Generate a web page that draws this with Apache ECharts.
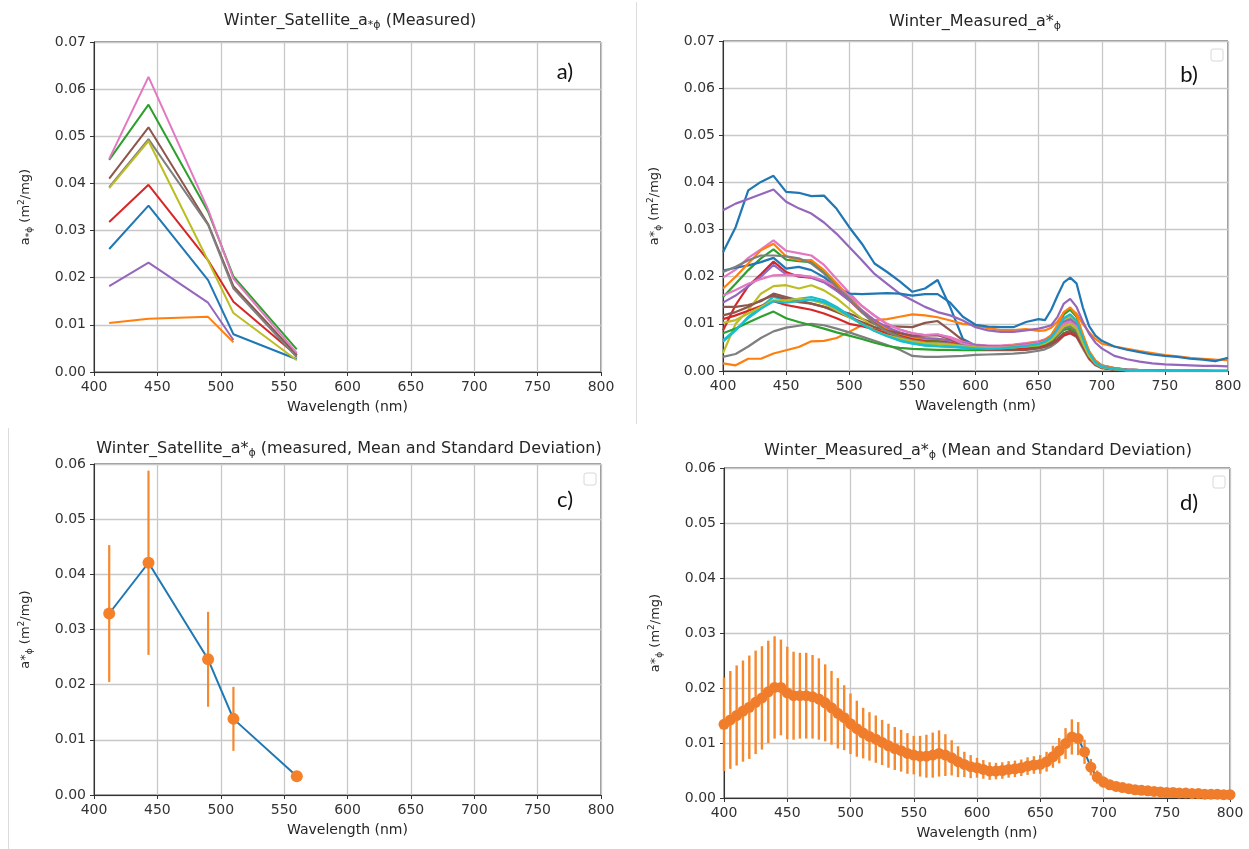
<!DOCTYPE html>
<html><head><meta charset="utf-8">
<script src="https://cdn.jsdelivr.net/npm/echarts@6/dist/echarts.min.js"></script>
<style>html,body{margin:0;padding:0;background:#fff}#c{width:1249px;height:849px}</style>
</head><body><div id="c"></div><script>
// ---------- Panel a: satellite bands ----------
const satWl = [412, 443, 490, 510, 560];
const satBlue   = [0.0261, 0.0353, 0.0195, 0.0080, 0.0027];
const satOrange = [0.0104, 0.0113, 0.0117, 0.0063, null];
const satGreen  = [0.0450, 0.0567, 0.0340, 0.0203, 0.0048];
const satRed    = [0.0318, 0.0397, 0.0237, 0.0149, 0.0035];
const satPurple = [0.0182, 0.0232, 0.0147, 0.0068, null];
const satBrown  = [0.0410, 0.0519, 0.0314, 0.0182, 0.0036];
const satPink   = [0.0452, 0.0626, 0.0345, 0.0198, 0.0040];
const satGray   = [0.0392, 0.0494, 0.0312, 0.0177, 0.0031];
const satOlive  = [0.0390, 0.0490, 0.0236, 0.0125, 0.0025];

// ---------- Panel b: measured spectra ----------
const measWl = [400,410,420,430,440,450,460,470,480,490,500,510,520,530,540,550,560,570,580,590,600,610,620,630,640,650,655,660,665,670,675,680,685,690,695,700,710,720,730,740,750,760,770,780,790,800];
const mBlue1 = [.0252,.0305,.0383,.0401,.0414,.0380,.0378,.0371,.0372,.0344,.0305,.0270,.0228,.0210,.0190,.0168,.0175,.0193,.0135,.0068,.0054,.0051,.0051,.0053,.0056,.0060,.0064,.0072,.0088,.0100,.0105,.0095,.0068,.0040,.0022,.0012,.0006,.0003,.0002,.0001,.0001,.0001,.0001,.0001,.0001,.0001];
const mOrange1 = [.0016,.0012,.0026,.0026,.0037,.0044,.0051,.0063,.0064,.0070,.0083,.0097,.0108,.0110,.0115,.0120,.0118,.0114,.0107,.0100,.0097,.0091,.0087,.0087,.0089,.0085,.0086,.0092,.0105,.0124,.0133,.0122,.0100,.0082,.0068,.0058,.0052,.0047,.0042,.0038,.0034,.0031,.0028,.0026,.0024,.0023];
const mGreen1 = [.0157,.0185,.0214,.0239,.0258,.0236,.0233,.0231,.0210,.0182,.0154,.0125,.0104,.0086,.0076,.0068,.0065,.0066,.0062,.0057,.0053,.0052,.0053,.0055,.0058,.0062,.0066,.0075,.0095,.0120,.0130,.0115,.0075,.0040,.0020,.0010,.0005,.0003,.0002,.0001,.0001,.0001,.0001,.0001,0,0];
const mRed1 = [.0086,.0140,.0180,.0205,.0232,.0210,.0200,.0198,.0190,.0172,.0150,.0125,.0105,.0090,.0078,.0068,.0062,.0060,.0058,.0055,.0052,.0050,.0049,.0049,.0050,.0052,.0055,.0060,.0068,.0080,.0085,.0078,.0055,.0030,.0015,.0008,.0004,.0002,.0001,.0001,0,0,0,0,0,0];
const mPurple1 = [.0341,.0355,.0365,.0375,.0385,.0359,.0345,.0334,.0315,.0291,.0263,.0235,.0206,.0185,.0164,.0150,.0136,.0125,.0118,.0107,.0093,.0086,.0083,.0083,.0086,.0090,.0093,.0097,.0115,.0143,.0153,.0136,.0105,.0079,.0060,.0048,.0032,.0025,.0020,.0016,.0014,.0013,.0012,.0011,.0011,.0010];
const mBrown1 = [.0136,.0136,.0140,.0148,.0164,.0157,.0150,.0143,.0136,.0129,.0122,.0111,.0100,.0095,.0094,.0093,.0102,.0106,.0086,.0065,.0052,.0048,.0046,.0046,.0048,.0052,.0055,.0062,.0075,.0090,.0095,.0085,.0058,.0032,.0016,.0008,.0004,.0002,.0001,.0001,0,0,0,0,0,0];
const mPink1 = [.0198,.0215,.0240,.0258,.0277,.0255,.0250,.0245,.0225,.0195,.0166,.0138,.0117,.0099,.0088,.0080,.0076,.0077,.0072,.0062,.0056,.0054,.0054,.0056,.0059,.0063,.0067,.0075,.0092,.0112,.0120,.0106,.0072,.0040,.0020,.0010,.0005,.0003,.0002,.0001,.0001,0,0,0,0,0];
const mGray1 = [.0030,.0036,.0052,.0070,.0084,.0092,.0096,.0100,.0097,.0090,.0082,.0073,.0064,.0055,.0045,.0032,.0030,.0030,.0031,.0032,.0034,.0035,.0036,.0037,.0039,.0043,.0046,.0052,.0062,.0075,.0080,.0072,.0048,.0025,.0012,.0006,.0003,.0001,.0001,0,0,0,0,0,0,0];
const mOlive1 = [.0038,.0100,.0129,.0164,.0180,.0182,.0175,.0182,.0171,.0154,.0132,.0111,.0093,.0079,.0069,.0062,.0058,.0057,.0055,.0052,.0049,.0048,.0048,.0050,.0053,.0057,.0061,.0070,.0088,.0108,.0115,.0102,.0068,.0036,.0018,.0009,.0004,.0002,.0001,.0001,0,0,0,0,0,0];
const mCyan1 = [.0062,.0086,.0115,.0136,.0157,.0150,.0153,.0157,.0150,.0136,.0118,.0100,.0086,.0075,.0064,.0058,.0054,.0052,.0051,.0049,.0047,.0046,.0047,.0049,.0052,.0056,.0060,.0068,.0085,.0104,.0110,.0098,.0065,.0035,.0017,.0008,.0004,.0002,.0001,.0001,0,0,0,0,0,0];
const mBlue2 = [.0213,.0219,.0224,.0231,.0240,.0217,.0221,.0214,.0199,.0178,.0164,.0163,.0164,.0165,.0164,.0160,.0163,.0163,.0145,.0115,.0098,.0094,.0093,.0093,.0104,.0110,.0108,.0130,.0160,.0188,.0198,.0186,.0135,.0095,.0075,.0064,.0052,.0045,.0040,.0035,.0032,.0030,.0026,.0024,.0021,.0028];
const mOrange2 = [.0175,.0200,.0228,.0256,.0270,.0243,.0235,.0235,.0214,.0186,.0157,.0129,.0107,.0090,.0079,.0072,.0068,.0068,.0064,.0058,.0054,.0052,.0052,.0054,.0057,.0061,.0066,.0076,.0098,.0125,.0135,.0118,.0078,.0042,.0022,.0012,.0006,.0003,.0002,.0001,.0001,.0001,0,0,0,0];
const mGreen2 = [.0080,.0090,.0103,.0115,.0126,.0112,.0104,.0097,.0090,.0082,.0075,.0068,.0060,.0053,.0049,.0047,.0046,.0045,.0045,.0044,.0044,.0044,.0045,.0047,.0050,.0054,.0058,.0064,.0075,.0087,.0090,.0082,.0056,.0030,.0015,.0008,.0004,.0002,.0001,0,0,0,0,0,0,0];
const mRed2 = [.0110,.0118,.0128,.0138,.0148,.0140,.0135,.0130,.0122,.0112,.0100,.0095,.0088,.0080,.0072,.0066,.0063,.0062,.0060,.0055,.0050,.0047,.0046,.0046,.0047,.0049,.0052,.0057,.0065,.0076,.0080,.0074,.0052,.0028,.0014,.0007,.0003,.0002,.0001,0,0,0,0,0,0,0];
const mPurple2 = [.0145,.0160,.0180,.0200,.0225,.0205,.0203,.0198,.0188,.0170,.0150,.0128,.0108,.0093,.0082,.0074,.0070,.0068,.0065,.0060,.0055,.0053,.0052,.0053,.0056,.0060,.0064,.0072,.0088,.0104,.0110,.0098,.0066,.0036,.0018,.0009,.0005,.0003,.0002,.0001,.0001,0,0,0,0,0];
const mBrown2 = [.0118,.0125,.0136,.0150,.0160,.0153,.0146,.0143,.0136,.0125,.0114,.0104,.0093,.0086,.0080,.0075,.0075,.0076,.0068,.0055,.0048,.0045,.0044,.0044,.0045,.0048,.0051,.0057,.0067,.0080,.0085,.0078,.0054,.0030,.0015,.0007,.0003,.0002,.0001,0,0,0,0,0,0,0];
const mPink2 = [.0160,.0172,.0185,.0195,.0203,.0204,.0203,.0200,.0192,.0178,.0160,.0138,.0118,.0100,.0088,.0080,.0076,.0078,.0070,.0058,.0052,.0050,.0050,.0052,.0055,.0059,.0063,.0070,.0085,.0100,.0105,.0094,.0064,.0035,.0018,.0009,.0004,.0002,.0001,.0001,0,0,0,0,0,0];
const mGray2 = [.0210,.0221,.0235,.0245,.0245,.0243,.0239,.0228,.0207,.0178,.0154,.0125,.0100,.0083,.0072,.0065,.0061,.0060,.0058,.0054,.0050,.0048,.0048,.0050,.0052,.0056,.0060,.0066,.0078,.0091,.0095,.0086,.0058,.0032,.0016,.0008,.0004,.0002,.0001,.0001,0,0,0,0,0,0];
const mOlive2 = [.0102,.0108,.0122,.0136,.0150,.0150,.0153,.0150,.0143,.0129,.0114,.0100,.0086,.0075,.0069,.0063,.0059,.0058,.0056,.0053,.0050,.0049,.0049,.0050,.0052,.0055,.0059,.0066,.0080,.0095,.0100,.0090,.0060,.0032,.0016,.0008,.0004,.0002,.0001,0,0,0,0,0,0,0];
const mCyan2 = [.0065,.0088,.0112,.0132,.0148,.0145,.0148,.0152,.0146,.0133,.0116,.0099,.0085,.0074,.0065,.0059,.0055,.0053,.0052,.0050,.0048,.0047,.0048,.0050,.0053,.0057,.0062,.0071,.0090,.0112,.0120,.0106,.0070,.0038,.0018,.0009,.0004,.0002,.0001,.0001,0,0,0,0,0,0];

// ---------- Panel c: satellite mean / std ----------
const satMean = [0.0329, 0.0421, 0.0246, 0.0138, 0.0034];
const satStd  = [0.0124, 0.0167, 0.0086, 0.0058, 0.0006];

// ---------- Panel d: measured mean / std ----------
const meanWl = [400,405,410,415,420,425,430,435,440,445,450,455,460,465,470,475,480,485,490,495,500,505,510,515,520,525,530,535,540,545,550,555,560,565,570,575,580,585,590,595,600,605,610,615,620,625,630,635,640,645,650,655,660,665,670,675,680,685,690,695,700,705,710,715,720,725,730,735,740,745,750,755,760,765,770,775,780,785,790,795,800];
const measMean = [.0134,.0142,.0150,.0158,.0165,.0174,.0182,.0193,.0201,.0201,.0191,.0186,.0186,.0186,.0184,.0180,.0173,.0164,.0154,.0146,.0135,.0126,.0118,.0112,.0107,.0101,.0095,.0090,.0086,.0081,.0078,.0076,.0076,.0078,.0081,.0078,.0073,.0066,.0061,.0057,.0055,.0052,.0049,.0049,.0050,.0052,.0053,.0055,.0058,.0060,.0061,.0066,.0075,.0086,.0099,.0111,.0108,.0084,.0056,.0038,.0029,.0024,.0021,.0019,.0017,.0015,.0014,.0013,.0012,.0011,.0010,.0010,.0009,.0009,.0008,.0008,.0007,.0007,.0007,.0006,.0006];
const measStd = [.0085,.0089,.0091,.0092,.0094,.0094,.0094,.0093,.0093,.0087,.0084,.0080,.0078,.0078,.0076,.0074,.0070,.0067,.0064,.0059,.0055,.0051,.0046,.0044,.0043,.0041,.0040,.0039,.0038,.0037,.0035,.0037,.0039,.0041,.0042,.0038,.0032,.0028,.0023,.0021,.0018,.0017,.0016,.0015,.0015,.0015,.0015,.0015,.0016,.0016,.0017,.0018,.0020,.0023,.0028,.0032,.0030,.0022,.0015,.0012,.0010,.0009,.0009,.0008,.0008,.0008,.0007,.0007,.0007,.0007,.0006,.0006,.0006,.0006,.0005,.0005,.0005,.0005,.0005,.0005,.0005];

const xTicks = [400,450,500,550,600,650,700,750,800];

const tab10 = ['#1f77b4','#ff7f0e','#2ca02c','#d62728','#9467bd','#8c564b','#e377c2','#7f7f7f','#bcbd22','#17becf'];
const FONT = 'DejaVu Sans';
const TXT = '#262626';

const grids = [
  {left: 94, top: 42, width: 507, height: 330},
  {left: 723, top: 41, width: 505, height: 330},
  {left: 94, top: 464, width: 507, height: 331},
  {left: 724, top: 468, width: 506, height: 330}
];

const richBase = {
  n: {fontSize: 13, fontFamily: FONT, color: TXT, fontWeight: 'normal', lineHeight: 17},
  sub: {fontSize: 9, fontFamily: FONT, color: TXT, fontWeight: 'normal', verticalAlign: 'bottom', lineHeight: 13},
  sup: {fontSize: 9, fontFamily: FONT, color: TXT, fontWeight: 'normal', verticalAlign: 'top', lineHeight: 13}
};
const richTitle = {
  n: {fontSize: 16, fontFamily: FONT, color: TXT, fontWeight: 'normal', lineHeight: 21},
  sub: {fontSize: 11, fontFamily: FONT, color: TXT, fontWeight: 'normal', verticalAlign: 'bottom', lineHeight: 15}
};

function xAx(i) {
  return {
    type: 'value', gridIndex: i, min: 400, max: 800, interval: 50,
    name: 'Wavelength (nm)', nameLocation: 'middle', nameGap: 28,
    nameTextStyle: {fontSize: 14, fontFamily: FONT, color: TXT},
    axisLine: {show: true, onZero: false, lineStyle: {color: '#333', width: 1}},
    axisTick: {show: true, length: 4, lineStyle: {color: '#333'}},
    axisLabel: {fontSize: 14, fontFamily: FONT, color: '#333', margin: 8,
      formatter: v => xTicks.includes(v) ? String(v) : ''},
    splitLine: {show: true, lineStyle: {color: '#c8c8c8', width: 1.3}}
  };
}
function yAx(i, max, nameRich) {
  return {
    type: 'value', gridIndex: i, min: 0, max: max, interval: 0.01,
    name: nameRich, nameLocation: 'middle', nameGap: 60,
    nameTextStyle: {rich: richBase},
    axisLine: {show: true, lineStyle: {color: '#333', width: 1}},
    axisTick: {show: true, length: 4, lineStyle: {color: '#333'}},
    axisLabel: {fontSize: 14, fontFamily: FONT, color: '#333', margin: 8,
      formatter: v => v.toFixed(2)},
    splitLine: {show: true, lineStyle: {color: '#c8c8c8', width: 1.3}}
  };
}

const series = [];
// panel a
[satBlue, satOrange, satGreen, satRed, satPurple, satBrown, satPink, satGray, satOlive].forEach((arr, i) => {
  series.push({
    type: 'line', xAxisIndex: 0, yAxisIndex: 0, symbol: 'none', silent: true, z: 2 + i * 0.01,
    data: satWl.map((w, j) => [w, arr[j]]).filter(p => p[1] !== null),
    lineStyle: {color: tab10[i % 10], width: 2}
  });
});
// panel b
[mBlue1, mOrange1, mGreen1, mRed1, mPurple1, mBrown1, mPink1, mGray1, mOlive1, mCyan1,
 mBlue2, mOrange2, mGreen2, mRed2, mPurple2, mBrown2, mPink2, mGray2, mOlive2, mCyan2].forEach((arr, i) => {
  series.push({
    type: 'line', xAxisIndex: 1, yAxisIndex: 1, symbol: 'none', silent: true, z: 2 + i * 0.01,
    data: measWl.map((w, j) => [w, arr[j]]),
    lineStyle: {color: tab10[i % 10], width: 2.2}
  });
});

function errBars(xi, wl, mean, std, lw) {
  return {
    type: 'custom', xAxisIndex: xi, yAxisIndex: xi, silent: true, clip: false, z: 4,
    data: wl.map((w, j) => [w, mean[j] - std[j], mean[j] + std[j]]),
    encode: {x: 0, y: [1, 2]},
    renderItem: (params, api) => {
      const a = api.coord([api.value(0), api.value(1)]);
      const b = api.coord([api.value(0), api.value(2)]);
      return {type: 'line', shape: {x1: a[0], y1: a[1], x2: b[0], y2: b[1]},
        style: {stroke: '#f5892f', lineWidth: lw}};
    }
  };
}
// panel c
series.push({type: 'line', xAxisIndex: 2, yAxisIndex: 2, symbol: 'none', silent: true, z: 2,
  data: satWl.map((w, j) => [w, satMean[j]]), lineStyle: {color: '#1f77b4', width: 2}});
series.push(errBars(2, satWl, satMean, satStd, 2.2));
series.push({type: 'scatter', xAxisIndex: 2, yAxisIndex: 2, silent: true, symbol: 'circle', symbolSize: 12, z: 6,
  data: satWl.map((w, j) => [w, satMean[j]]), itemStyle: {color: '#f5802a', opacity: 1, borderWidth: 0}});
// panel d
series.push({type: 'line', xAxisIndex: 3, yAxisIndex: 3, symbol: 'none', silent: true, z: 2,
  data: meanWl.map((w, j) => [w, measMean[j]]), lineStyle: {color: '#1f77b4', width: 2}});
series.push(errBars(3, meanWl, measMean, measStd, 2.4));
series.push({type: 'scatter', xAxisIndex: 3, yAxisIndex: 3, silent: true, symbol: 'circle', symbolSize: 11, z: 6,
  data: meanWl.map((w, j) => [w, measMean[j]]), itemStyle: {color: '#f07d2b', opacity: 1, borderWidth: 0}});

function title(text, cx, top) {
  return {text: text, left: cx, top: top, textAlign: 'center', padding: 0,
    textStyle: {fontWeight: 'normal', rich: richTitle}};
}

const option = {
  animation: false,
  backgroundColor: '#ffffff',
  title: [
    title('{n|Winter_Satellite_a}{sub|*ϕ}{n| (Measured)}', 350, 10),
    title('{n|Winter_Measured_a*}{sub|ϕ}', 975, 11),
    title('{n|Winter_Satellite_a*}{sub|ϕ}{n| (measured, Mean and Standard Deviation)}', 349, 438),
    title('{n|Winter_Measured_a*}{sub|ϕ}{n| (Mean and Standard Deviation)}', 978, 440)
  ],
  grid: grids.map(g => Object.assign({show: true, borderColor: '#333', borderWidth: 1, backgroundColor: 'transparent', containLabel: false}, g)),
  xAxis: [xAx(0), xAx(1), xAx(2), xAx(3)],
  yAxis: [
    yAx(0, 0.07, '{n|a}{sub|*ϕ}{n| (m}{sup|2}{n|/mg)}'),
    yAx(1, 0.07, '{n|a*}{sub|ϕ}{n| (m}{sup|2}{n|/mg)}'),
    yAx(2, 0.06, '{n|a*}{sub|ϕ}{n| (m}{sup|2}{n|/mg)}'),
    yAx(3, 0.06, '{n|a*}{sub|ϕ}{n| (m}{sup|2}{n|/mg)}')
  ],
  series: series,
  graphic: [
    {type: 'line', shape: {x1: 636.5, y1: 2, x2: 636.5, y2: 424}, style: {stroke: '#dcdcdc', lineWidth: 1}, silent: true},
    {type: 'line', shape: {x1: 8.5, y1: 428, x2: 8.5, y2: 849}, style: {stroke: '#dcdcdc', lineWidth: 1}, silent: true},
    {type: 'text', x: 565, y: 72, style: {text: 'a)', fontSize: 22, fontFamily: 'Lato', fill: '#111', align: 'center', verticalAlign: 'middle'}},
    {type: 'text', x: 1189, y: 75, style: {text: 'b)', fontSize: 22, fontFamily: 'Lato', fill: '#111', align: 'center', verticalAlign: 'middle'}},
    {type: 'text', x: 565, y: 500, style: {text: 'c)', fontSize: 22, fontFamily: 'Lato', fill: '#111', align: 'center', verticalAlign: 'middle'}},
    {type: 'text', x: 1189, y: 503, style: {text: 'd)', fontSize: 22, fontFamily: 'Lato', fill: '#111', align: 'center', verticalAlign: 'middle'}},
    {type: 'rect', shape: {x: 1211, y: 49, width: 12, height: 12, r: 2}, style: {fill: '#fff', stroke: '#d8d8d8', lineWidth: 1}},
    {type: 'rect', shape: {x: 584, y: 473, width: 12, height: 12, r: 2}, style: {fill: '#fff', stroke: '#d8d8d8', lineWidth: 1}},
    {type: 'rect', shape: {x: 1213, y: 476, width: 12, height: 12, r: 2}, style: {fill: '#fff', stroke: '#d8d8d8', lineWidth: 1}}
  ]
};
const chart = echarts.init(document.getElementById('c'), null, {renderer: 'canvas'});
chart.setOption(option);
</script></body></html>
